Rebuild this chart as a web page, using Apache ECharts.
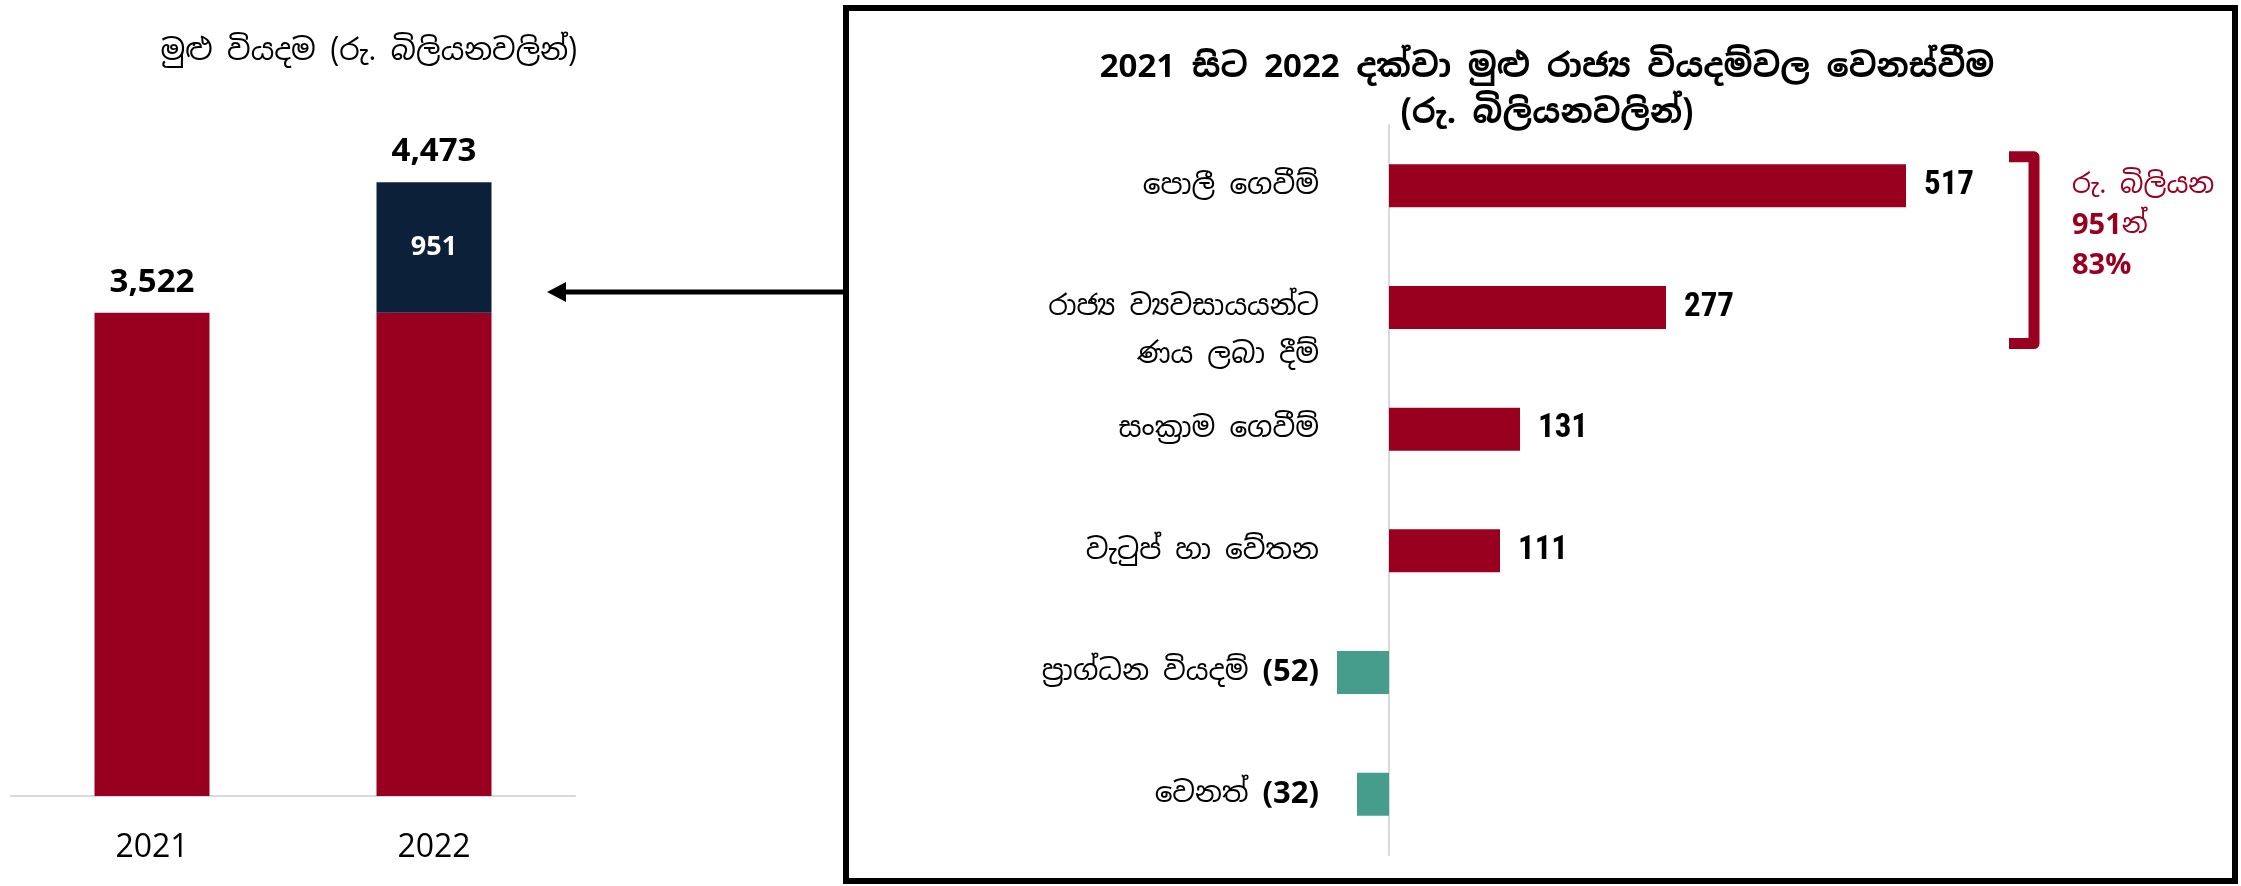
<!DOCTYPE html>
<html>
<head>
<meta charset="utf-8">
<script src="https://cdn.jsdelivr.net/npm/echarts@6/dist/echarts.min.js"></script>
<style>
  html, body { margin: 0; padding: 0; background: #fff; }
  #chart { width: 2241px; height: 886px; }
</style>
</head>
<body>
<div id="chart"></div>
<script>
// total spending (Rs. bn)
const years = ['2021', '2022'];
const totalSpend = [3522, 4473];
const baseSpend = [3522, 3522];
const increaseSpend = [null, 951];

// change 2021 -> 2022 by item
const changeCategories = [
  'පොලී ගෙවීම්',
  'රාජ්\u200Dය ව්\u200Dයවසායයන්ට\nණය ලබා දීම්',
  'සංක්\u200Dරාම ගෙවීම්',
  'වැටුප් හා වේතන',
  'ප්\u200Dරාග්ධන වියදම්',
  'වෙනත්'
];
const changeValues = [517, 277, 131, 111, -52, -32];

const RED = '#990020';
const NAVY = '#0c2039';
const TEAL = '#479d8c';
const SIN = "'Noto Sans Sinhala', 'Iskoola Pota', 'Noto Sans', sans-serif";
const LAT = "'Open Sans', 'Noto Sans', sans-serif";
const COND = "'Roboto Condensed', 'DejaVu Sans Condensed', 'Liberation Sans Narrow', Roboto, sans-serif";

const fmt = (v) => v.toLocaleString('en-US');
const topShare = Math.round((changeValues[0] + changeValues[1]) / increaseSpend[1] * 100);

const chart = echarts.init(document.getElementById('chart'));

const option = {
  animation: false,
  title: [
    {
      text: 'මුළු වියදම (රු. බිලියනවලින්)',
      left: 364, top: 33, textAlign: 'center',
      textStyle: { fontFamily: SIN, fontSize: 29, fontWeight: 'normal', color: '#000' }
    },
    {
      text: '2021 සිට 2022 දක්වා මුළු රාජ්\u200Dය වියදම්වල වෙනස්වීම\n(රු. බිලියනවලින්)',
      left: 1542, top: 40, textAlign: 'center',
      textStyle: { fontFamily: SIN, fontSize: 33, fontWeight: 'bold', color: '#000', lineHeight: 46 }
    }
  ],
  grid: [
    { left: 11, right: 1666, top: 110, bottom: 90 },
    { left: 1289, right: 252, top: 125, bottom: 31 }
  ],
  xAxis: [
    {
      gridIndex: 0, type: 'category', data: years,
      axisLine: { lineStyle: { color: '#d9d9d9', width: 2 } },
      axisTick: { show: false },
      axisLabel: { fontFamily: LAT, fontSize: 32, color: '#000', margin: 36 }
    },
    { gridIndex: 1, type: 'value', min: -100, max: 600, show: false }
  ],
  yAxis: [
    { gridIndex: 0, type: 'value', min: 0, max: 5000, show: false },
    {
      gridIndex: 1, type: 'category', data: changeCategories, inverse: true,
      axisLine: { onZero: true, lineStyle: { color: '#d9d9d9', width: 2 } },
      axisTick: { show: false },
      axisLabel: {
        margin: -30, fontFamily: SIN, fontSize: 28, color: '#000', lineHeight: 48, align: 'right',
        formatter: (name, i) => {
          const v = changeValues[i];
          let s = name.includes('\n') ? '\n' + name : name;
          if (v < 0) s += ' {b|(' + Math.abs(v) + ')}';
          return s;
        },
        rich: { b: { fontFamily: LAT, fontWeight: 'bold', fontSize: 31, color: '#000', lineHeight: 48 } }
      }
    }
  ],
  series: [
    {
      name: 'base', type: 'bar', stack: 'total', xAxisIndex: 0, yAxisIndex: 0,
      data: baseSpend, barWidth: 115, itemStyle: { color: RED }
    },
    {
      name: 'increase', type: 'bar', stack: 'total', xAxisIndex: 0, yAxisIndex: 0,
      data: increaseSpend, barWidth: 115, itemStyle: { color: NAVY },
      label: {
        show: true, position: 'inside', color: '#fff', fontFamily: LAT, fontWeight: 'bold', fontSize: 27,
        formatter: (p) => fmt(p.value)
      }
    },
    {
      name: 'totalLabel', type: 'bar', stack: 'total', xAxisIndex: 0, yAxisIndex: 0,
      data: years.map(() => 0), barWidth: 115, silent: true,
      itemStyle: { color: 'transparent' },
      label: {
        show: true, position: 'top', distance: 14, color: '#000',
        fontFamily: LAT, fontWeight: 'bold', fontSize: 33,
        formatter: (p) => fmt(totalSpend[p.dataIndex])
      }
    },
    {
      name: 'change', type: 'bar', xAxisIndex: 1, yAxisIndex: 1, barWidth: 43,
      data: changeValues.map((v) => ({ value: v, itemStyle: { color: v < 0 ? TEAL : RED } })),
      label: {
        show: true, position: 'right', distance: 18, color: '#000',
        fontFamily: COND, fontWeight: 'bold', fontSize: 33,
        formatter: (p) => (p.value > 0 ? fmt(p.value) : '')
      }
    }
  ]
};

chart.setOption(option);

// annotations: frame, arrow, bracket and note
const y0 = chart.convertToPixel({ yAxisIndex: 1 }, changeCategories[0]);
const y1 = chart.convertToPixel({ yAxisIndex: 1 }, changeCategories[1]);
chart.setOption({
  graphic: [
    {
      type: 'rect', shape: { x: 846, y: 8, width: 1389, height: 873 },
      style: { fill: 'none', stroke: '#000', lineWidth: 6 }, silent: true
    },
    {
      type: 'line', shape: { x1: 843, y1: 292, x2: 562, y2: 292 },
      style: { stroke: '#000', lineWidth: 5 }, silent: true
    },
    {
      type: 'polygon', shape: { points: [[547, 292], [566, 282], [566, 302]] },
      style: { fill: '#000' }, silent: true
    },
    {
      type: 'polyline',
      shape: { points: [[2009, y0 - 29], [2034, y0 - 29], [2034, y1 + 36], [2009, y1 + 36]] },
      style: { stroke: RED, lineWidth: 11, lineJoin: 'round', fill: 'none' }, silent: true
    },
    {
      type: 'text', x: 2072, y: 166, silent: true,
      style: {
        text: '{a|රු. බිලියන}\n{b|' + increaseSpend[1] + '}{a|න්}\n{b|' + topShare + '%}',
        fill: RED,
        rich: {
          a: { fontFamily: SIN, fontSize: 27, color: RED, lineHeight: 40 },
          b: { fontFamily: LAT, fontWeight: 'bold', fontSize: 29, color: RED, lineHeight: 40 }
        }
      }
    }
  ]
});

window.addEventListener('resize', () => chart.resize());
</script>
</body>
</html>
